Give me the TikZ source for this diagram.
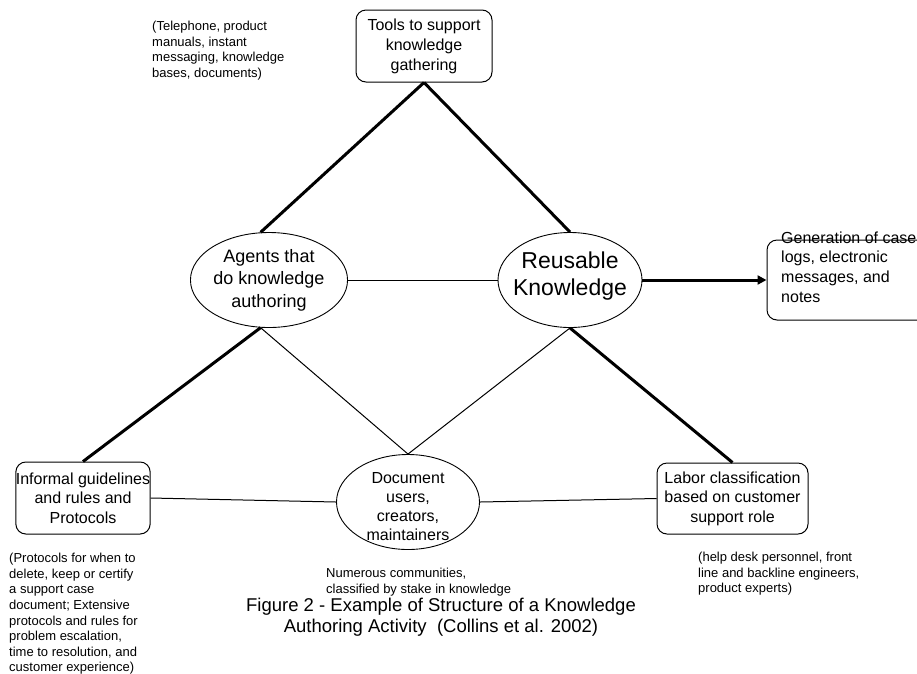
\documentclass[tikz,border=0pt]{standalone}
\usepackage{fontspec}
\setmainfont{Liberation Sans}
\usetikzlibrary{shapes.geometric,arrows.meta}
\begin{document}
\begin{tikzpicture}[x=1pt,y=-1pt,
  rbox/.style={draw,rounded corners=10pt,line width=1pt,inner sep=0pt,align=center},
  ell/.style={draw,ellipse,line width=0.9pt,inner sep=0pt},
  heavy/.style={line width=3pt},
  light/.style={line width=1pt},
  note/.style={align=left,inner sep=0pt,anchor=west,font=\fontsize{13}{15.6}\selectfont},
  plain/.style={inner sep=0pt,align=center}
]
\clip (0,0) rectangle (917,673);
\fill[white] (0,0) rectangle (917,673);

% nodes
\node[rbox,minimum width=136pt,minimum height=72pt,font=\fontsize{16}{20}\selectfont] (tools) at (424,46) {Tools to support\\knowledge\\gathering};
\node[ell,minimum width=128pt,minimum height=95pt,font=\fontsize{18}{22.5}\selectfont,align=center] (ag) at (269,280) {Agents that\\do knowledge\\authoring};
\node[ell,minimum width=144pt,minimum height=95pt] (re) at (570,280) {};
\node[plain,font=\fontsize{23}{27}\selectfont] (retext) at (570,276) {Reusable\\Knowledge};
\node[rbox,minimum width=160pt,minimum height=80pt] (gen) at (847,280) {};
\node[inner sep=0pt,anchor=west,align=left,font=\fontsize{16}{19.6}\selectfont] (gentext) at (781,267) {Generation of case\\logs, electronic\\messages, and\\notes};
\node[rbox,minimum width=134pt,minimum height=72pt,font=\fontsize{16}{19.5}\selectfont] (inf) at (83,498) {Informal guidelines\\and rules and\\Protocols};
\node[ell,minimum width=143pt,minimum height=95pt] (doc) at (408,502) {};
\node[plain,font=\fontsize{16}{19}\selectfont] (doctext) at (408,507) {Document\\users,\\creators,\\maintainers};
\node[rbox,minimum width=151pt,minimum height=71pt,font=\fontsize{16}{19.5}\selectfont] (lab) at (732.5,498.5) {Labor classification\\based on customer\\support role};

% notes
\node[note] (n1) at (152,50.5) {(Telephone, product\\manuals, instant\\messaging, knowledge\\bases, documents)};
\node[note] (n2) at (9,614) {(Protocols for when to\\delete, keep or certify\\a support case\\document; Extensive\\protocols and rules for\\problem escalation,\\time to resolution, and\\customer experience)};
\node[note] (n3) at (326,582) {Numerous communities,\\classified by stake in knowledge};
\node[note] (n4) at (698,574) {(help desk personnel, front\\line and backline engineers,\\product experts)};
\node[plain,font=\fontsize{18.5}{21}\selectfont] (cap) at (441,617) {Figure 2 - Example of Structure of a Knowledge\\Authoring Activity\ \ (Collins et al. 2002)};

% connectors
\draw[heavy] (tools.south) -- (ag.100);
\draw[heavy] (tools.south) -- (re.north);
\draw[light] (ag.east) -- (re.west);
\draw[heavy,-{Triangle[length=9pt,width=9pt]}] (re.east) -- (gen.west);
\draw[heavy] (ag.260) -- (inf.north);
\draw[light] (ag.260) -- (doc.north);
\draw[light] (re.south) -- (doc.north);
\draw[heavy] (re.south) -- (lab.north);
\draw[light] (inf.east) -- (doc.west);
\draw[light] (doc.east) -- (lab.west);
\end{tikzpicture}
\end{document}
